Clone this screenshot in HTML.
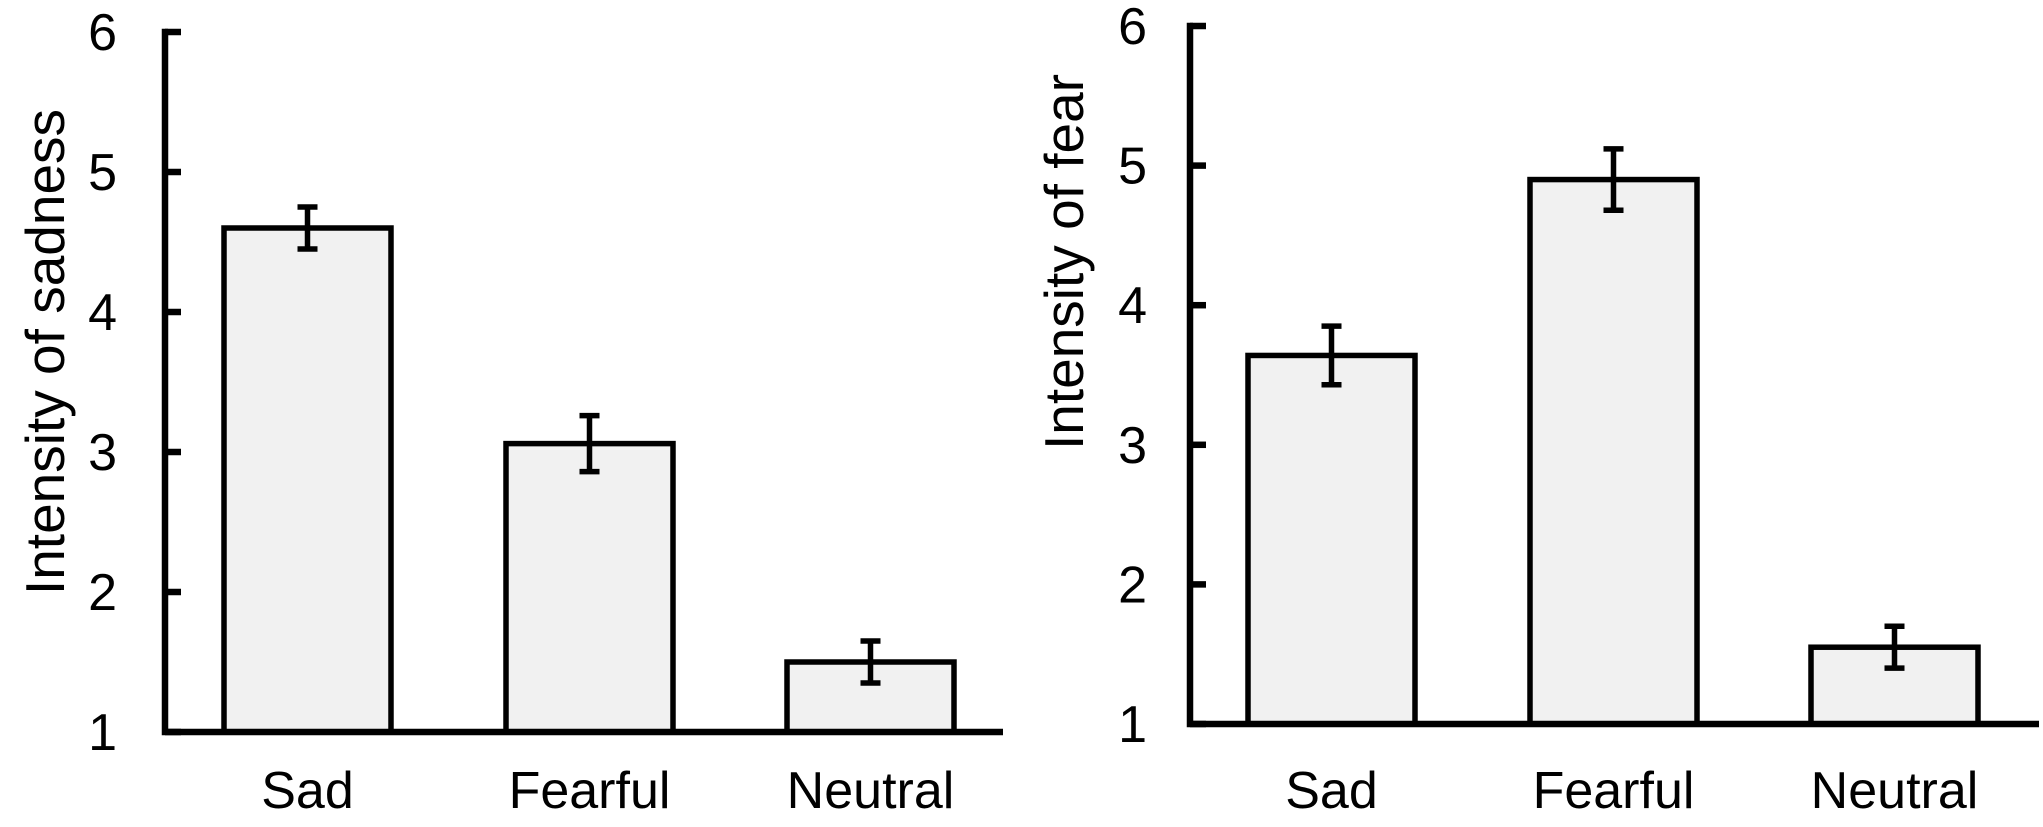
<!DOCTYPE html>
<html><head><meta charset="utf-8"><style>
html,body{margin:0;padding:0;background:#fff;}
svg{display:block;}
text{font-family:"Liberation Sans",Arial,sans-serif;fill:#000;}
</style></head><body>
<svg id="chart" width="2043" height="827" viewBox="0 0 2043 827" xmlns="http://www.w3.org/2000/svg"></svg>
<script>
const categories = ["Sad", "Fearful", "Neutral"];
const sadnessValues = [4.6, 3.06, 1.5];
const sadnessErrors = [0.15, 0.2, 0.15];
const fearValues = [3.64, 4.9, 1.55];
const fearErrors = [0.21, 0.22, 0.15];
const yTicks = [1, 2, 3, 4, 5, 6];

const NS = "http://www.w3.org/2000/svg";
const svg = document.getElementById("chart");
function mk(tag, attrs, parent) {
  const e = document.createElementNS(NS, tag);
  for (const k in attrs) e.setAttribute(k, attrs[k]);
  (parent || svg).appendChild(e);
  return e;
}

function drawPanel(p) {
  const g = mk("g", {});
  
  
  const y = v => p.y0 - (v - 1) * (p.y0 - p.y6) / 5;
  p.values.forEach((v, i) => {
    const x1 = p.barX[i];
    const r = mk("rect", {x: x1, y: y(v), width: p.barW, height: p.y0 - y(v), fill: "#f1f1f1", stroke: "#000", "stroke-width": 5.5}, g);
    
    
    const cx = x1 + p.barW / 2, e = p.errors[i];
    const eb = mk("path", {d: `M${cx},${y(v+e)}V${y(v-e)}M${cx-10},${y(v+e)}H${cx+10}M${cx-10},${y(v-e)}H${cx+10}`, stroke: "#000", "stroke-width": 5.5, fill: "none"}, g);
    
    
    const t = mk("text", {x: cx, y: 808, "text-anchor": "middle", "font-size": 52}, g);
    t.textContent = categories[i];
    
    
  });
  const ax = mk("path", {d: `M${p.ax+3},${y(6)}H${p.ax}V${p.y0}H${p.xEnd}`, stroke: "#000", "stroke-width": 6.5, fill: "none"}, g);
  
  
  yTicks.forEach(t => {
    const tk = mk("line", {x1: p.ax, x2: p.ax + 16, y1: y(t), y2: y(t), stroke: "#000", "stroke-width": 6.5}, g);
    
    
    const lb = mk("text", {x: p.labelX, y: y(t) + 18, "text-anchor": "end", "font-size": 52}, g);
    lb.textContent = t;
    
    
  });
  const tt = mk("text", {x: 0, y: 0, "text-anchor": "middle", "font-size": 55, transform: `translate(${p.titleX},${p.titleY}) rotate(-90)`}, g);
  tt.textContent = p.title;
  
  
}

drawPanel({name: "sadness-panel", values: sadnessValues, errors: sadnessErrors, ax: 165, y0: 732, y6: 32, xEnd: 1003,
  barX: [224, 506, 787], barW: 167, labelX: 117, title: "Intensity of sadness", titleX: 64, titleY: 352});
drawPanel({name: "fear-panel", values: fearValues, errors: fearErrors, ax: 1190, y0: 724, y6: 26, xEnd: 2039,
  barX: [1248, 1530, 1811], barW: 167, labelX: 1147, title: "Intensity of fear", titleX: 1083, titleY: 262});
</script>
</body></html>
